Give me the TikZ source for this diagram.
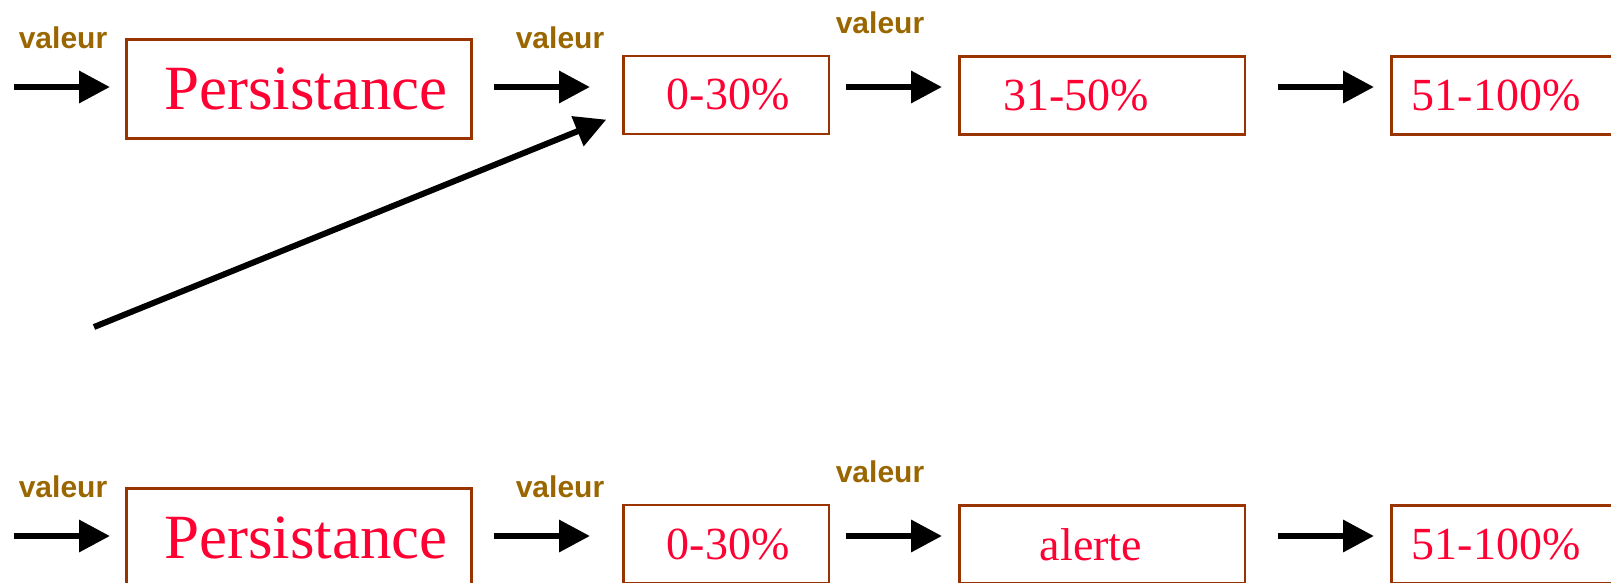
\documentclass[tikz,border=0pt]{standalone}
\usepackage{fontspec}
\setmainfont{Liberation Serif}
\newfontfamily\valfont{Liberation Sans}
\usetikzlibrary{arrows.meta,calc}
\definecolor{boxred}{RGB}{255,0,51}
\definecolor{boxbrown}{RGB}{153,51,0}
\definecolor{valgold}{RGB}{153,102,0}
\begin{document}
\begin{tikzpicture}[x=1pt,y=-1pt,
  arr/.style={line width=6.5pt,-{Triangle[length=31pt,width=31pt]}},
  bigbox/.style={draw=boxbrown,line width=3pt,minimum width=345pt,minimum height=99pt,inner sep=0pt,text=boxred,font=\fontsize{63}{63}\selectfont},
  smallbox/.style={draw=boxbrown,line width=2.5pt,minimum height=78pt,inner sep=0pt,text=boxred,font=\fontsize{46}{46}\selectfont},
  val/.style={text=valgold,font=\valfont\bfseries\fontsize{30}{30}\selectfont,inner sep=0pt}]
\useasboundingbox (0,0) rectangle (1611,582);
\clip (0,0) rectangle (1611,582);

% ---------- row 1 ----------
\node[val] (v1) at (63,38) {valeur};
\node[val] (v2) at (560,38) {valeur};
\node[val] (v3) at (880,23) {valeur};
\node[bigbox] (P1) at (299,89) {\hspace*{14pt}Persistance};
\node[smallbox,minimum width=205.5pt] (B1) at (726,95) {\hspace*{4pt}0-30\%};
\node[smallbox,minimum width=285.5pt] (B2) at (1102,95.5) {31-50\%\hspace*{52pt}};
\node[smallbox,minimum width=285.5pt] (B3) at (1534,95.5) {51-100\%\hspace*{76pt}};
\coordinate (in1) at (14,87);
\coordinate (d0) at (94,327);
\draw[arr,shorten >=15pt] (in1) -- (in1 -| P1.west);
\draw[arr,shorten <=21pt,shorten >=32pt] (P1.east |- in1) -- (B1.west |- in1);
\draw[arr,shorten <=16pt,shorten >=16pt] (B1.east |- in1) -- (B2.west |- in1);
\draw[arr,shorten <=32pt,shorten >=16pt] (B2.east |- in1) -- (B3.west |- in1);
\draw[arr,line width=6pt,shorten >=17pt] (d0) -- ([yshift=22pt]B1.south west);

% ---------- row 2 ----------
\node[val] (v4) at (63,487) {valeur};
\node[val] (v5) at (560,487) {valeur};
\node[val] (v6) at (880,472) {valeur};
\node[bigbox] (P2) at (299,538) {\hspace*{14pt}Persistance};
\node[smallbox,minimum width=205.5pt] (B4) at (726,544) {\hspace*{4pt}0-30\%};
\node[smallbox,minimum width=285.5pt] (B5) at (1102,544.5) {alerte\hspace*{22pt}};
\node[smallbox,minimum width=285.5pt] (B6) at (1534,544.5) {51-100\%\hspace*{76pt}};
\coordinate (in2) at (14,536);
\draw[arr,shorten >=15pt] (in2) -- (in2 -| P2.west);
\draw[arr,shorten <=21pt,shorten >=32pt] (P2.east |- in2) -- (B4.west |- in2);
\draw[arr,shorten <=16pt,shorten >=16pt] (B4.east |- in2) -- (B5.west |- in2);
\draw[arr,shorten <=32pt,shorten >=16pt] (B5.east |- in2) -- (B6.west |- in2);
\end{tikzpicture}
\end{document}
